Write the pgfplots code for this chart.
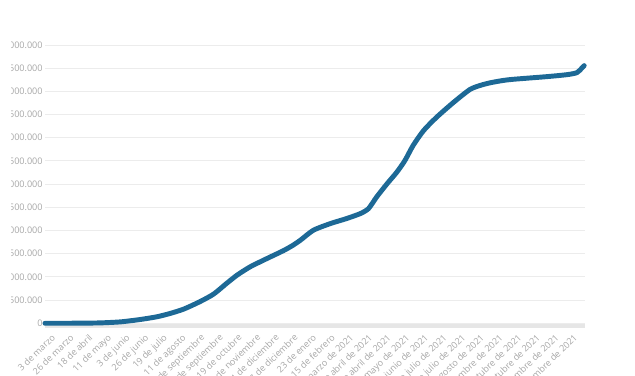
\documentclass[border=0pt]{standalone}
\usepackage{fontspec}
\setmainfont{Open Sans}
\usepackage{pgfplots}
\pgfplotsset{compat=1.18}
\definecolor{linecol}{HTML}{1D6996}
\definecolor{gridcol}{HTML}{ECECEC}
\definecolor{labcol}{HTML}{A6A6A6}
\definecolor{basecol}{HTML}{E6E6E6}
\begin{document}
\begin{tikzpicture}
\begin{scope}
\clip (-25.9pt,242.45pt) -- (442.5pt,242.45pt) -- (442.5pt,-38.8pt) -- (-33.75pt,-38.8pt) -- (-33.75pt,-4pt) -- (-25.9pt,-4pt) -- cycle;
\begin{axis}[
  scale only axis,
  width=405pt, height=208.7pt,
  xmin=0, xmax=666,
  ymin=0, ymax=6000000,
  axis line style={draw=none},
  major tick length=0pt,
  ytick={0,500000,...,6000000},
  ymajorgrids,
  grid style={gridcol, line width=0.75pt},
  scaled y ticks=false,
  /pgf/number format/.cd, fixed, 1000 sep={.}, assume math mode=true,
  /pgfplots/.cd,
  tick label style={font=\fontsize{6.8}{8}\selectfont, text=labcol},
  yticklabel style={anchor=east, inner sep=0pt, xshift=-1.6pt},
  xtick={0,23,46,69,92,115,138,161,184,207,230,253,276,299,322,345,368,391,414,437,460,483,506,529,552,575,598,621,644},
  xticklabels={3 de marzo,26 de marzo,18 de abril,11 de mayo,3 de junio,26 de junio,19 de julio,11 de agosto,3 de septiembre,26 de septiembre,19 de octubre,11 de noviembre,4 de diciembre,27 de diciembre,23 de enero,15 de febrero,10 de marzo de 2021,2 de abril de 2021,25 de abril de 2021,18 de mayo de 2021,10 de junio de 2021,3 de julio de 2021,26 de julio de 2021,18 de agosto de 2021,10 de septiembre de 2021,3 de octubre de 2021,26 de octubre de 2021,18 de noviembre de 2021,11 de diciembre de 2021},
  xticklabel style={xshift=4.5pt, yshift=-7.4pt, rotate=44, anchor=north east, inner sep=0pt},
  clip=false,
]
\draw[basecol, line width=3pt] ([yshift=-2.1pt]axis cs:0,0) -- ([yshift=-2.1pt]axis cs:666,0);
\addplot[linecol, line width=3.7pt, line cap=round, line join=round, smooth, tension=0.4] coordinates {
(0,0) (20,100) (45,2500) (68,8000) (93,30000) (117,80000) (138,140000)
(154,210000) (171,305000) (191,465000) (208,630000) (224,860000)
(237,1039000) (253,1217000) (274,1398000) (294,1565000) (306,1684000)
(315,1791000) (331,2006000) (352,2150000) (372,2258000) (389,2366000)
(399,2473000) (409,2723000) (422,3011000) (434,3260000) (444,3512000)
(454,3834000) (467,4157000) (483,4443000) (504,4765000) (524,5040000)
(537,5130000) (549,5185000) (563,5230000) (577,5260000) (619,5318000)
(644,5361000) (656,5404000) (662,5500000) (665,5555000)
};
\end{axis}
\end{scope}
\pgfresetboundingbox
\path[use as bounding box] (-33.75pt,-38.8pt) rectangle (442.5pt,242.45pt);
\end{tikzpicture}
\end{document}
